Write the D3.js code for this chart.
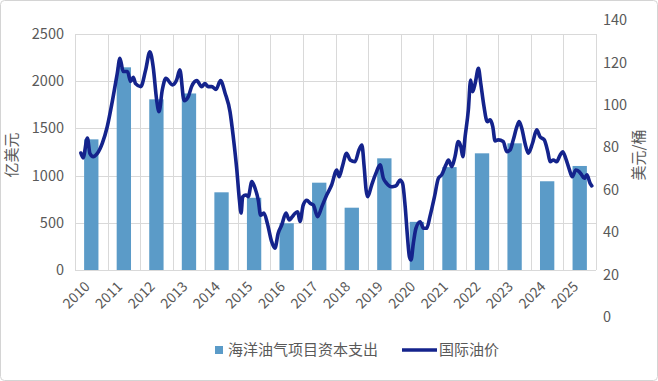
<!DOCTYPE html>
<html>
<head>
<meta charset="utf-8">
<script src="https://cdn.jsdelivr.net/npm/d3@7"></script>
<style>
  html, body { margin: 0; padding: 0; background: #fff; }
  svg { display: block; }
  text { font-family: "Noto Sans CJK SC", "Noto Sans", sans-serif; fill: #595959; }
</style>
</head>
<body>
<svg id="chart" width="658" height="381"></svg>
<script>
// ---- data ----
const years = ["2010","2011","2012","2013","2014","2015","2016","2017","2018","2019","2020","2021","2022","2023","2024","2025"];
const capex = [1384, 2147, 1808, 1870, 823, 765, 495, 925, 660, 1183, 510, 1090, 1236, 1342, 940, 1102];
const leftTicks = [0, 500, 1000, 1500, 2000, 2500];
const rightTicks = [0, 20, 40, 60, 80, 100, 120, 140];
// oil price: date as decimal year, price in USD/bbl
const oilDates = [2010.18,2010.25,2010.38,2010.46,2010.56,2010.68,2010.84,2010.99,2011.15,2011.30,2011.38,2011.48,2011.61,2011.71,2011.79,2011.86,
  2012.02,2012.17,2012.30,2012.40,2012.51,2012.58,2012.68,2012.79,2012.99,2013.12,2013.22,2013.35,2013.48,2013.58,2013.74,2013.89,2013.99,
  2014.09,2014.20,2014.33,2014.47,2014.61,2014.76,2014.86,2014.97,2015.05,2015.10,2015.15,2015.25,2015.32,2015.43,2015.53,2015.63,2015.70,2015.80,2015.91,
  2016.04,2016.14,2016.24,2016.35,2016.48,2016.58,2016.66,2016.76,2016.84,2016.91,2017.01,2017.12,2017.22,2017.32,2017.45,2017.58,2017.73,2017.88,
  2018.04,2018.11,2018.21,2018.34,2018.45,2018.60,2018.72,2018.81,2018.88,2018.94,2018.99,2019.11,2019.24,2019.37,2019.47,2019.57,2019.71,2019.78,2019.88,2019.98,
  2020.06,2020.14,2020.21,2020.27,2020.32,2020.39,2020.47,2020.60,2020.70,2020.80,2020.90,2021.04,2021.16,2021.26,2021.39,2021.47,2021.57,2021.67,2021.77,2021.85,2021.91,2021.98,
  2022.08,2022.15,2022.21,2022.29,2022.39,2022.46,2022.56,2022.66,2022.75,2022.83,2022.90,2023.00,2023.15,2023.26,2023.36,2023.46,2023.57,2023.64,2023.72,2023.82,2023.92,
  2024.05,2024.18,2024.28,2024.41,2024.52,2024.59,2024.69,2024.79,2024.90,2024.98,2025.07,2025.17,2025.27,2025.38,2025.48,2025.56,2025.64,2025.72,2025.82,2025.87];
const oilPrices = [77.3,75,84.4,77,75.6,77,82,89.7,102,115,122,115.7,115.7,111,113,110,
  108.6,116.5,125,118,102,96.8,107,112.5,109.4,111.7,116.5,102,103.9,108.6,111.4,108.6,110,
  108.6,108.6,107.3,111.4,105.5,96.8,85,69.3,55,49,56.7,57.5,56.7,63.8,60.7,55,48,49,44,
  35.5,32.4,39.5,43.4,49,45.7,47,48.9,49.6,45,52.8,55,53.6,52.8,47.3,52,57.5,62.2,
  69.3,66.1,70.9,77.2,74,73.2,78.7,81,70.9,59.9,56.7,62.2,67.7,71.7,65.4,63,61.4,61.5,62.2,64.6,
  63,52,37.9,28.4,26.9,34.7,41.8,44.9,41.8,41.8,47.3,56.7,65.4,67,71.7,74,70.9,75.6,82.7,80.3,75.6,85,
  97.6,111.7,106.2,110.2,117.2,110.2,99.2,92.1,92.9,89.7,83,83.5,82.7,77.9,78.7,83.5,89.7,92.1,89,81.9,77.2,
  81.9,88.2,85,83.5,77.9,73.2,74,73.2,76.4,77.9,74.8,70.1,66.1,69.3,68.5,67,65.4,67,63,61.8];
const seriesNames = ["海洋油气项目资本支出", "国际油价"];
const leftTitle = "亿美元";
const rightTitle = "美元/桶";

// ---- layout ----
const svg = d3.select("#chart");
const plot = { left: 75, right: 596, top: 34, bottom: 270 };
const barColor = "#5b9bc8";
const lineColor = "#14238c";
const gridColor = "#d9d9d9";

svg.append("rect").attr("x", 0.5).attr("y", 0.5).attr("width", 657).attr("height", 380)
  .attr("rx", 4).attr("fill", "#fff").attr("stroke", "#d4d4d4");

const x = d3.scaleBand().domain(years).range([plot.left, plot.right]).paddingInner(0.56).paddingOuter(0.28);
const xt = d3.scaleLinear().domain([2010, 2026]).range([plot.left, plot.right]);
const yL = d3.scaleLinear().domain([0, 2500]).range([plot.bottom, plot.top]);
const yR = d3.scaleLinear().domain([0, 140]).range([317, 20]);

// grid
const step = x.step();
const g = svg.append("g");
g.selectAll("line.h").data(leftTicks).join("line")
  .attr("x1", plot.left).attr("x2", plot.right)
  .attr("y1", d => Math.round(yL(d)) + 0.5).attr("y2", d => Math.round(yL(d)) + 0.5)
  .attr("stroke", gridColor).attr("stroke-width", 1);
g.selectAll("line.v").data(d3.range(years.length + 1)).join("line")
  .attr("x1", i => Math.round(plot.left + i * step) + 0.5).attr("x2", i => Math.round(plot.left + i * step) + 0.5)
  .attr("y1", plot.top).attr("y2", plot.bottom)
  .attr("stroke", gridColor).attr("stroke-width", 1);

// bars
svg.append("g").selectAll("rect").data(years).join("rect")
  .attr("x", d => x(d)).attr("width", x.bandwidth())
  .attr("y", (d, i) => yL(capex[i])).attr("height", (d, i) => yL(0) - yL(capex[i]))
  .attr("fill", barColor);

// line
const pts = oilDates.map((d, i) => [d, oilPrices[i]]);
svg.append("path").datum(pts)
  .attr("d", d3.line().x(d => xt(d[0])).y(d => yR(d[1])).curve(d3.curveMonotoneX))
  .attr("fill", "none").attr("stroke", lineColor).attr("stroke-width", 3.6)
  .attr("stroke-linejoin", "round").attr("stroke-linecap", "round");

// left axis labels
svg.append("g").selectAll("text").data(leftTicks).join("text")
  .attr("x", 64).attr("y", d => yL(d)).attr("dy", "0.35em")
  .attr("text-anchor", "end").attr("font-size", 14.5).text(d => d);

// right axis labels
svg.append("g").selectAll("text").data(rightTicks).join("text")
  .attr("x", 603).attr("y", d => yR(d)).attr("dy", "0.35em")
  .attr("text-anchor", "start").attr("font-size", 14.5).text(d => d);

// x labels
svg.append("g").selectAll("text").data(years).join("text")
  .attr("transform", d => `translate(${x(d) + x.bandwidth() / 2 - 4},${284}) rotate(-45)`)
  .attr("text-anchor", "end").attr("dy", "0.35em").attr("font-size", 14).text(d => d);

// axis titles
svg.append("text").attr("transform", "translate(12,155) rotate(-90)")
  .attr("text-anchor", "middle").attr("dy", "0.35em").attr("font-size", 15).text(leftTitle);
svg.append("text").attr("transform", "translate(639,155) rotate(-90)")
  .attr("text-anchor", "middle").attr("dy", "0.35em").attr("font-size", 15).text(rightTitle);

// legend
const lg = svg.append("g");
lg.append("rect").attr("x", 215).attr("y", 346).attr("width", 8).attr("height", 8).attr("fill", barColor);
lg.append("text").attr("x", 228).attr("y", 350).attr("dy", "0.35em").attr("font-size", 15).text(seriesNames[0]);
lg.append("line").attr("x1", 402).attr("x2", 437).attr("y1", 350).attr("y2", 350)
  .attr("stroke", lineColor).attr("stroke-width", 3.6);
lg.append("text").attr("x", 439).attr("y", 350).attr("dy", "0.35em").attr("font-size", 15).text(seriesNames[1]);
</script>
</body>
</html>
